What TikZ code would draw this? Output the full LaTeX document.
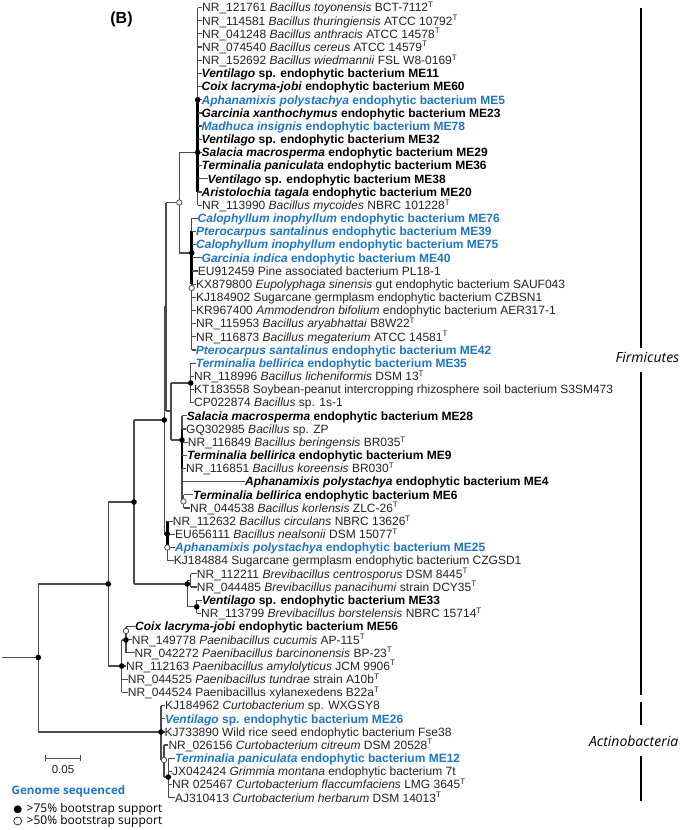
\documentclass[tikz,border=0pt]{standalone}
\usepackage{fontspec}
\setmainfont{Liberation Sans}
\newfontfamily\lgfont{Open Sans}
\definecolor{gblue}{RGB}{30,118,200}
\definecolor{lineg}{RGB}{75,75,75}
\definecolor{txtg}{RGB}{35,35,35}
\newcommand{\Ts}{\textsuperscript{T}}
\newcommand{\lf}{\fontsize{12pt}{13pt}\selectfont}
\begin{document}
\begin{tikzpicture}[x=1pt,y=-1pt,
 leaf/.style={anchor=west,inner sep=0pt,text height=8.6pt,text depth=0pt,font=\lf,text=txtg},
 leafb/.style={leaf,font=\lf\bfseries,text=black},
 leafc/.style={leaf,font=\lf\bfseries,text=gblue},
 br/.style={draw=lineg,line width=1.2pt},
 thk/.style={draw=black,line width=2.6pt},
 fdot/.style={circle,fill=black,inner sep=0pt,minimum size=5.6pt},
 odot/.style={circle,draw=lineg,fill=white,line width=0.8pt,inner sep=0pt,minimum size=5.4pt},
 brk/.style={draw=black,line width=2.8pt},
]
\useasboundingbox (0,0) rectangle (685,830);
% leaves
\node[leaf] (l0) at (202,7.5) {NR\_121761 \textit{Bacillus toyonensis} BCT-7112\Ts};
\node[leaf] (l1) at (202,20.7) {NR\_114581 \textit{Bacillus thuringiensis} ATCC 10792\Ts};
\node[leaf] (l2) at (202,33.8) {NR\_041248 \textit{Bacillus anthracis} ATCC 14578\Ts};
\node[leaf] (l3) at (202,47.0) {NR\_074540 \textit{Bacillus cereus} ATCC 14579\Ts};
\node[leaf] (l4) at (202,60.2) {NR\_152692 \textit{Bacillus wiedmannii} FSL W8-0169\Ts};
\node[leafb] (l5) at (201.5,73.4) {\textit{Ventilago} sp. endophytic bacterium ME11};
\node[leafb] (l6) at (201.5,86.5) {\textit{Coix lacryma-jobi} endophytic bacterium ME60};
\node[leafc] (l7) at (201.5,99.7) {\textit{Aphanamixis polystachya} endophytic bacterium ME5};
\node[leafb] (l8) at (201.5,112.9) {\textit{Garcinia xanthochymus} endophytic bacterium ME23};
\node[leafc] (l9) at (201.5,126.0) {\textit{Madhuca insignis} endophytic bacterium ME78};
\node[leafb] (l10) at (201.5,139.2) {\textit{Ventilago} sp. endophytic bacterium ME32};
\node[leafb] (l11) at (201.5,152.4) {\textit{Salacia macrosperma} endophytic bacterium ME29};
\node[leafb] (l12) at (201.5,165.5) {\textit{Terminalia paniculata} endophytic bacterium ME36};
\node[leafb] (l13) at (207.5,178.7) {\textit{Ventilago} sp. endophytic bacterium ME38};
\node[leafb] (l14) at (201.5,191.9) {\textit{Aristolochia tagala} endophytic bacterium ME20};
\node[leaf] (l15) at (202,205.1) {NR\_113990 \textit{Bacillus mycoides} NBRC 101228\Ts};
\node[leafc] (l16) at (197.5,218.2) {\textit{Calophyllum inophyllum} endophytic bacterium ME76};
\node[leafc] (l17) at (196,231.4) {\textit{Pterocarpus santalinus} endophytic bacterium ME39};
\node[leafc] (l18) at (196,244.6) {\textit{Calophyllum inophyllum} endophytic bacterium ME75};
\node[leafc] (l19) at (201.5,257.7) {\textit{Garcinia indica} endophytic bacterium ME40};
\node[leaf] (l20) at (197.7,270.9) {EU912459 Pine associated bacterium PL18-1};
\node[leaf] (l21) at (196,284.1) {KX879800 \textit{Eupolyphaga sinensis} gut endophytic bacterium SAUF043};
\node[leaf] (l22) at (196,297.2) {KJ184902 Sugarcane germplasm endophytic bacterium CZBSN1};
\node[leaf] (l23) at (196,310.4) {KR967400 \textit{Ammodendron bifolium} endophytic bacterium AER317-1};
\node[leaf] (l24) at (196,323.6) {NR\_115953 \textit{Bacillus aryabhattai} B8W22\Ts};
\node[leaf] (l25) at (196,336.8) {NR\_116873 \textit{Bacillus megaterium} ATCC 14581\Ts};
\node[leafc] (l26) at (195.7,349.9) {\textit{Pterocarpus santalinus} endophytic bacterium ME42};
\node[leafc] (l27) at (195.7,363.1) {\textit{Terminalia bellirica} endophytic bacterium ME35};
\node[leaf] (l28) at (194,376.3) {NR\_118996 \textit{Bacillus licheniformis} DSM 13\Ts};
\node[leaf] (l29) at (194,389.4) {KT183558 Soybean-peanut intercropping rhizosphere soil bacterium S3SM473};
\node[leaf] (l30) at (194,402.6) {CP022874 \textit{Bacillus} sp. 1s-1};
\node[leafb] (l31) at (186.7,415.8) {\textit{Salacia macrosperma} endophytic bacterium ME28};
\node[leaf] (l32) at (186,428.9) {GQ302985 \textit{Bacillus} sp. ZP};
\node[leaf] (l33) at (187.7,442.1) {NR\_116849 \textit{Bacillus beringensis} BR035\Ts};
\node[leafb] (l34) at (187,455.3) {\textit{Terminalia bellirica} endophytic bacterium ME9};
\node[leaf] (l35) at (186,468.5) {NR\_116851 \textit{Bacillus koreensis} BR030\Ts};
\node[leafb] (l36) at (245,481.6) {\textit{Aphanamixis polystachya} endophytic bacterium ME4};
\node[leafb] (l37) at (193,494.8) {\textit{Terminalia bellirica} endophytic bacterium ME6};
\node[leaf] (l38) at (190,508.0) {NR\_044538 \textit{Bacillus korlensis} ZLC-26\Ts};
\node[leaf] (l39) at (172.7,521.1) {NR\_112632 \textit{Bacillus circulans} NBRC 13626\Ts};
\node[leaf] (l40) at (175,534.3) {EU656111 \textit{Bacillus nealsonii} DSM 15077\Ts};
\node[leafc] (l41) at (175,547.5) {\textit{Aphanamixis polystachya} endophytic bacterium ME25};
\node[leaf] (l42) at (173.7,560.6) {KJ184884 Sugarcane germplasm endophytic bacterium CZGSD1};
\node[leaf] (l43) at (196.7,573.8) {NR\_112211 \textit{Brevibacillus centrosporus} DSM 8445\Ts};
\node[leaf] (l44) at (196.7,587.0) {NR\_044485 \textit{Brevibacillus panacihumi} strain DCY35\Ts};
\node[leafb] (l45) at (201.7,600.2) {\textit{Ventilago} sp. endophytic bacterium ME33};
\node[leaf] (l46) at (201,613.3) {NR\_113799 \textit{Brevibacillus borstelensis} NBRC 15714\Ts};
\node[leafb] (l47) at (135,626.5) {\textit{Coix lacryma-jobi} endophytic bacterium ME56};
\node[leaf] (l48) at (131.7,639.7) {NR\_149778 \textit{Paenibacillus cucumis} AP-115\Ts};
\node[leaf] (l49) at (134.5,652.8) {NR\_042272 \textit{Paenibacillus barcinonensis} BP-23\Ts};
\node[leaf] (l50) at (126,666.0) {NR\_112163 \textit{Paenibacillus amylolyticus} JCM 9906\Ts};
\node[leaf] (l51) at (127.7,679.2) {NR\_044525 \textit{Paenibacillus tundrae} strain A10b\Ts};
\node[leaf] (l52) at (127.7,692.3) {NR\_044524 Paenibacillus xylanexedens B22a\Ts};
\node[leaf] (l53) at (165,705.5) {KJ184962 \textit{Curtobacterium} sp. WXGSY8};
\node[leafc] (l54) at (165,718.7) {\textit{Ventilago} sp. endophytic bacterium ME26};
\node[leaf] (l55) at (164.5,731.9) {KJ733890 Wild rice seed endophytic bacterium Fse38};
\node[leaf] (l56) at (168.3,745.0) {NR\_026156 \textit{Curtobacterium citreum} DSM 20528\Ts};
\node[leafc] (l57) at (175,758.2) {\textit{Terminalia paniculata} endophytic bacterium ME12};
\node[leaf] (l58) at (172,771.4) {JX042424 \textit{Grimmia montana} endophytic bacterium 7t};
\node[leaf] (l59) at (172,784.5) {NR 025467 \textit{Curtobacterium flaccumfaciens} LMG 3645\Ts};
\node[leaf] (l60) at (175,797.7) {AJ310413 \textit{Curtobacterium herbarum} DSM 14013\Ts};
% internal nodes
\coordinate (r0) at (2,657.5);
\coordinate (nroot) at (38.3,657.5);
\coordinate (nZ) at (108.3,584);
\coordinate (nX) at (134,502);
\coordinate (nU) at (164.3,420);
\coordinate (nT) at (166,306.5);
\coordinate (nP) at (179.3,202.5);
\coordinate (nA) at (197.7,152.4);
\coordinate (nB) at (191.7,253);
\coordinate (nQ) at (171,411);
\coordinate (nR) at (190.7,383);
\coordinate (nS) at (182,440);
\coordinate (nSo) at (183.5,501.4);
\coordinate (nV) at (167.3,534);
\coordinate (nW) at (187.3,584);
\coordinate (nW1) at (190.7,580.4);
\coordinate (nW2) at (196.7,606.8);
\coordinate (nY) at (121.7,666);
\coordinate (nY1) at (126,640);
\coordinate (nAA) at (161,732);
\coordinate (nAA2) at (164,760);
\coordinate (nAA3) at (168.3,777);
% backbone
\draw[br] (r0) -- (nroot);
\draw[br] (nroot |- nZ) -- (nroot |- nAA);
\draw[br] (nroot |- nZ) -- (nZ);
\draw[br] (nroot |- nAA) -- (nAA);
\draw[br] (nZ |- nX) -- (nZ |- nY);
\draw[br] (nZ |- nX) -- (nX);
\draw[br] (nZ |- nY) -- (nY);
\draw[br] (nX |- nU) -- (nX |- nW);
\draw[br] (nX |- nU) -- (nU);
\draw[br] (nX |- nW) -- (nW);
\draw[br] (nU |- nT) -- (nU |- nV);
\draw[br] (nU |- nT) -- (nT);
\draw[br] (nU |- nV) -- (nV);
\draw[br] (nT |- nP) -- (nT |- nQ);
\draw[br] (nT |- nP) -- (nP);
\draw[br] (nT |- nQ) -- (nQ);
\draw[br] (nP |- nA) -- (nP |- nB);
\draw[br] (nP |- nA) -- (nA);
\draw[br] (nP |- nB) -- (nB);
\draw[br] (nQ |- nR) -- (nQ |- nS);
\draw[br] (nQ |- nR) -- (nR);
\draw[br] (nQ |- nS) -- (nS);
% cluster A
\draw[br] (nA |- l0) -- (nA |- l15);
\draw[thk] (nA |- l7) -- (nA |- l14);
\foreach \i in {0,...,15} \draw[br] (nA |- l\i) -- (l\i.west);
% cluster B
\draw[br] (nB |- l16) -- (nB |- l26);
\draw[thk] (nB |- l17) -- (nB |- l21);
\foreach \i in {16,...,26} \draw[br] (nB |- l\i) -- (l\i.west);
% cluster R
\draw[br] (nR |- l27) -- (nR |- l30);
\foreach \i in {27,...,30} \draw[br] (nR |- l\i) -- (l\i.west);
% cluster S
\draw[br] (nS |- l31) -- (nS |- nSo);
\draw[thk] (nS |- l32) -- (nS |- l35);
\foreach \i in {31,...,36} \draw[br] (nS |- l\i) -- (l\i.west);
\draw[br] (nS |- nSo) -- (nSo);
\draw[br] (nSo |- l37) -- (nSo |- l38);
\foreach \i in {37,38} \draw[br] (nSo |- l\i) -- (l\i.west);
% cluster V
\draw[br] (nV |- l39) -- (nV |- l42);
\draw[thk] (nV |- l39) -- (nV |- l41);
\foreach \i in {39,...,42} \draw[br] (nV |- l\i) -- (l\i.west);
% cluster W
\draw[br] (nW |- nW1) -- (nW |- nW2);
\draw[br] (nW |- nW1) -- (nW1);
\draw[br] (nW |- nW2) -- (nW2);
\draw[br] (nW1 |- l43) -- (nW1 |- l44);
\foreach \i in {43,44} \draw[br] (nW1 |- l\i) -- (l\i.west);
\draw[br] (nW2 |- l45) -- (nW2 |- l46);
\foreach \i in {45,46} \draw[br] (nW2 |- l\i) -- (l\i.west);
% cluster Y
\draw[br] (nY |- nY1) -- (nY |- l52);
\draw[br] (nY |- nY1) -- (nY1);
\draw[br] (nY1 |- l47) -- (nY1 |- l49);
\foreach \i in {47,48,49} \draw[br] (nY1 |- l\i) -- (l\i.west);
\foreach \i in {50,51,52} \draw[br] (nY |- l\i) -- (l\i.west);
% cluster AA
\draw[br] (nAA |- l53) -- (nAA |- nAA2);
\foreach \i in {53,54,55} \draw[br] (nAA |- l\i) -- (l\i.west);
\draw[br] (nAA |- nAA2) -- (nAA2);
\draw[br] (nAA2 |- l56) -- (nAA2 |- nAA3);
\draw[br] (nAA2 |- l56) -- (l56.west);
\draw[br] (nAA2 |- nAA3) -- (nAA3);
\draw[br] (nAA3 |- l57) -- (nAA3 |- l60);
\foreach \i in {57,...,60} \draw[br] (nAA3 |- l\i) -- (l\i.west);
% support dots
\node[fdot] (d1) at (nroot) {};
\node[fdot] (d2) at (nZ) {};
\node[fdot] (d3) at (nX) {};
\node[fdot] (d4) at (nU) {};
\node[odot] (d5) at (nP) {};
\node[fdot] (d6) at (nA |- l7) {};
\node[fdot] (d7) at (nA) {};
\node[fdot] (d8) at (nB) {};
\node[odot] (d9) at (191.7,288) {};
\node[fdot] (d10) at (nR) {};
\node[fdot] (d11) at (nS) {};
\node[odot] (d12) at (nSo) {};
\node[fdot] (d13) at (nV) {};
\node[odot] (d14) at (nV |- l41) {};
\node[fdot] (d15) at (nW) {};
\node[fdot] (d16) at (nW2) {};
\node[fdot] (d17) at (nY) {};
\node[fdot] (d18) at (nY1) {};
\node[odot] (d19) at (126,631) {};
\node[fdot] (d20) at (nAA) {};
\node[odot] (d21) at (nAA2) {};
\node[fdot] (d22) at (nAA3) {};
% panel label
\node[font=\fontsize{16pt}{18pt}\selectfont\bfseries] (lab) at (121.5,19) {(B)};
% scale bar
\coordinate (sb1) at (45.7,758.3);
\coordinate (sb2) at (80.3,758.3);
\draw[br] (sb1) -- (sb2);
\draw[br] ([yshift=-3pt]sb1) -- ([yshift=3pt]sb1);
\draw[br] ([yshift=-3pt]sb2) -- ([yshift=3pt]sb2);
\node[font=\fontsize{11.5pt}{12pt}\selectfont,text=txtg] (sbl) at (63,769.5) {0.05};
% legend
\node[anchor=west,inner sep=0pt,font=\lgfont\bfseries\fontsize{11.6pt}{13pt}\selectfont,text=gblue] (gs) at (11.5,791.5) {Genome sequenced};
\node[circle,fill=black,inner sep=0pt,minimum size=8pt] (lg1) at (17.7,809.3) {};
\node[circle,draw=black,fill=white,line width=0.6pt,inner sep=0pt,minimum size=8pt] (lg2) at (17.7,821) {};
\node[anchor=west,inner sep=0pt,font=\lgfont\fontsize{12pt}{13pt}\selectfont] (lt1) at (26.5,809.3) {>75\% bootstrap support};
\node[anchor=west,inner sep=0pt,font=\lgfont\fontsize{12pt}{13pt}\selectfont] (lt2) at (26.5,821) {>50\% bootstrap support};
% clade labels
\node[font=\lgfont\itshape\fontsize{14pt}{16pt}\selectfont] (firm) at (647.5,357) {Firmicutes};
\node[font=\lgfont\itshape\fontsize{14pt}{16pt}\selectfont] (actino) at (633.7,741) {Actinobacteria};
\coordinate (b1) at (641,8);
\coordinate (b2) at (641,348);
\coordinate (b3) at (641,372);
\coordinate (b4) at (641,695);
\coordinate (b5) at (641,702);
\coordinate (b6) at (641,725);
\coordinate (b7) at (641,756);
\coordinate (b8) at (641,801);
\draw[brk] (b1) -- (b2);
\draw[brk] (b3) -- (b4);
\draw[brk] (b5) -- (b6);
\draw[brk] (b7) -- (b8);
\end{tikzpicture}
\end{document}
